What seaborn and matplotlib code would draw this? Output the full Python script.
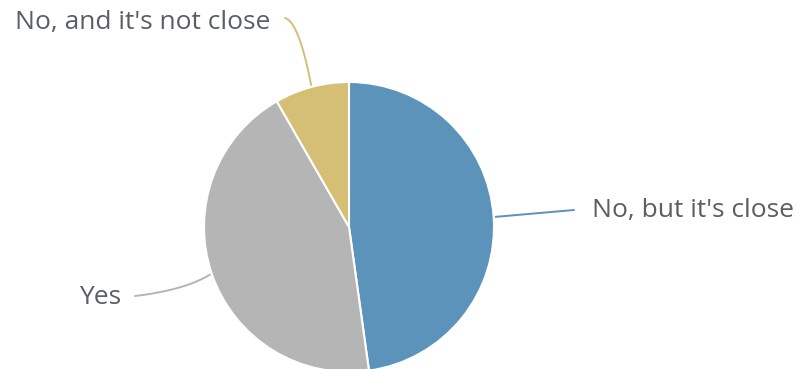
import numpy as np
import matplotlib
matplotlib.use("Agg")
import matplotlib.pyplot as plt
import seaborn as sns

categories = ["No, but it's close", "Yes", "No, and it's not close"]
values = [47.8, 43.9, 8.3]
colors = ["#5b93ba", "#b5b5b5", "#d4bf74"]

sns.set_theme(style="white")
plt.rcParams["font.family"] = ["Open Sans", "DejaVu Sans"]

W, H = 808, 369
fig = plt.figure(figsize=(W / 100, H / 100), dpi=100)
ax = fig.add_axes([0, 0, 1, 1])
ax.set_xlim(0, W)
ax.set_ylim(0, H)
ax.axis("off")

cx, cy, r = 349, H - 227, 145
wedges, _ = ax.pie(values, colors=colors, startangle=90, counterclock=False,
                   center=(cx, cy), radius=r,
                   wedgeprops=dict(edgecolor="white", linewidth=1.5))
ax.set_xlim(0, W)
ax.set_ylim(0, H)
ax.set_aspect("equal")

def edge_point(w, rr):
    a = np.deg2rad((w.theta1 + w.theta2) / 2)
    return cx + rr * np.cos(a), cy + rr * np.sin(a)

txt_color = "#5a5f66"
fs = 19

def P(x, y):
    return x, H - y

# blue
sx, sy = edge_point(wedges[0], r + 2)
pts = [(sx, sy), P(574, 210)]
ax.plot([p[0] for p in pts], [p[1] for p in pts], color=colors[0], lw=1.4, solid_capstyle="round")
ax.text(592, H - 211, categories[0], fontsize=fs, color=txt_color, va="center", ha="left")

# gray (smooth curve)
sx, sy = edge_point(wedges[1], r + 2)
t = np.linspace(0, 1, 30)
p0 = np.array([sx, sy]); p1 = np.array([185, H - 290]); p2 = np.array([135, H - 296])
curve = ((1 - t) ** 2)[:, None] * p0 + (2 * (1 - t) * t)[:, None] * p1 + (t ** 2)[:, None] * p2
ax.plot(curve[:, 0], curve[:, 1], color=colors[1], lw=1.4)
ax.text(121, H - 298, categories[1], fontsize=fs, color=txt_color, va="center", ha="right")

# yellow
sx, sy = edge_point(wedges[2], r + 2)
p0 = np.array([sx, sy]); p1 = np.array([299, H - 22]); p2 = np.array([285, H - 18])
curve = ((1 - t) ** 2)[:, None] * p0 + (2 * (1 - t) * t)[:, None] * p1 + (t ** 2)[:, None] * p2
ax.plot(curve[:, 0], curve[:, 1], color=colors[2], lw=1.4)
ax.text(270, H - 22, categories[2], fontsize=fs, color=txt_color, va="center", ha="right")

fig.savefig("out.png", dpi=100)
